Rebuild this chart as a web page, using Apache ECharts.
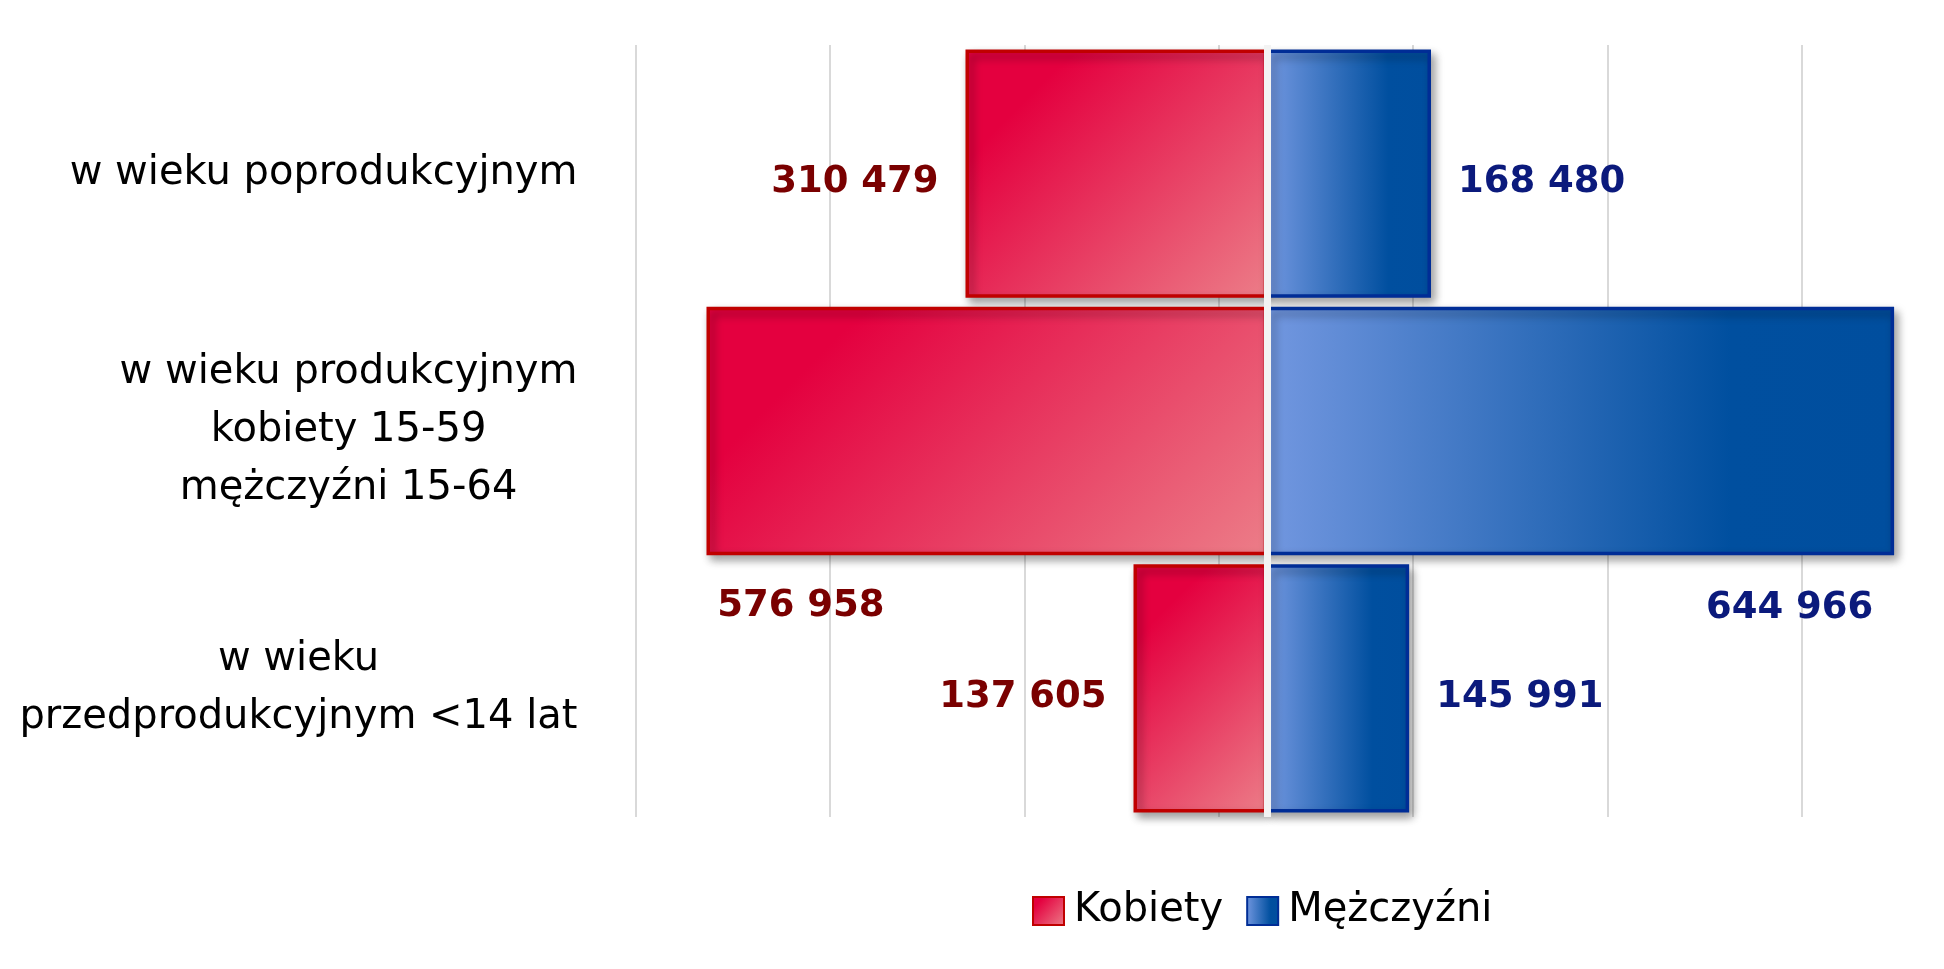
<!DOCTYPE html>
<html>
<head>
<meta charset="utf-8">
<script src="https://cdn.jsdelivr.net/npm/echarts@6/dist/echarts.min.js"></script>
<style>
  html, body { margin: 0; padding: 0; background: #ffffff; }
  #chart { width: 1944px; height: 969px; }
</style>
</head>
<body>
<div id="chart"></div>
<script>
// ---- data ----
const categories = [
  'w wieku poprodukcyjnym',
  'w wieku produkcyjnym\nkobiety 15-59\nmężczyźni 15-64',
  'w wieku\nprzedprodukcyjnym <14 lat'
];
const seriesNames = ['Kobiety', 'Mężczyźni'];
const women = [310479, 576958, 137605];
const men = [168480, 644966, 145991];
const axisMin = -650000;
const axisMax = 650000;
const tickStep = 200000;

// ---- styling ----
const FONT = 'DejaVu Sans';
const gridLeft = 635.5, gridRight = 45, gridTop = 45, gridBottom = 152;
const plotW = 1944 - gridLeft - gridRight;
const pxPerUnit = plotW / (axisMax - axisMin);
const barH = 250;

function fmt(v) {
  return String(Math.abs(v)).replace(/\B(?=(\d{3})+(?!\d))/g, ' ');
}

const CRIMSON = '#E4003F';
const PINK = '#EC7D88';
function womenGradient(value) {
  const W = Math.max(value * pxPerUnit, 1);
  const L = (W + barH) / 2;
  return new echarts.graphic.LinearGradient(0, 0, L / W, L / barH, [
    { offset: 0, color: CRIMSON },
    { offset: 0.2, color: CRIMSON },
    { offset: 1, color: PINK }
  ]);
}
const menGradient = new echarts.graphic.LinearGradient(0, 0, 1, 0, [
  { offset: 0, color: '#7297E0' },
  { offset: 0.74, color: '#004F9F' },
  { offset: 1, color: '#004E9E' }
]);

const shadow = {
  shadowBlur: 9,
  shadowOffsetX: 4,
  shadowOffsetY: 5,
  shadowColor: 'rgba(0,0,0,0.38)'
};

const labelBase = {
  show: true,
  fontFamily: FONT,
  fontWeight: 'bold',
  fontSize: 37,
  distance: 27,
  textBorderWidth: 0,
  formatter: p => fmt(p.value)
};

const WOMEN_LABEL = '#7A0000';
const MEN_LABEL = '#0B1A7C';
const specialRow = 1; // middle row labels sit below the bar

const womenData = women.map((v, i) => ({
  value: -v,
  itemStyle: { color: womenGradient(v) },
  label: i === specialRow
    ? { position: 'inside', offset: [-186, 175] }
    : { position: 'left', offset: [0, 9] }
}));
const menData = men.map((v, i) => ({
  value: v,
  label: i === specialRow
    ? { position: 'inside', offset: [209, 177] }
    : { position: 'right', offset: [0, 9] }
}));

const chart = echarts.init(document.getElementById('chart'), null, { renderer: 'canvas' });

chart.setOption({
  backgroundColor: '#ffffff',
  animation: false,
  grid: { left: gridLeft, right: gridRight, top: gridTop, bottom: gridBottom, containLabel: false },
  legend: {
    data: seriesNames,
    left: 1032,
    top: 891,
    padding: 0,
    icon: 'rect',
    itemWidth: 31,
    itemHeight: 28,
    itemGap: 23,
    textStyle: {
      fontFamily: FONT,
      fontSize: 40,
      color: '#000000',
      lineHeight: 40,
      padding: [0, 0, 0, 5]
    }
  },
  xAxis: {
    type: 'value',
    min: axisMin,
    max: axisMax,
    interval: tickStep,
    axisLabel: { show: false },
    axisLine: { show: false },
    axisTick: { show: false },
    splitLine: {
      show: true,
      showMaxLine: false,
      lineStyle: { color: '#D9D9D9', width: 2 }
    }
  },
  yAxis: {
    type: 'category',
    data: categories,
    inverse: true,
    axisLine: { show: false },
    axisTick: { show: false },
    splitLine: { show: false },
    axisLabel: {
      margin: 58,
      color: '#000000',
      fontFamily: FONT,
      fontSize: 40,
      lineHeight: 58,
      formatter: v => v.split('\n').map(l => '{c|' + l + '}').join('\n'),
      rich: {
        c: { align: 'center', fontFamily: FONT, fontSize: 40, lineHeight: 58, color: '#000000' }
      }
    }
  },
  series: [
    {
      name: seriesNames[0],
      type: 'bar',
      stack: 'pyramid',
      barCategoryGap: '3.5%',
      data: womenData,
      itemStyle: Object.assign({
        color: new echarts.graphic.LinearGradient(0, 0, 1, 1, [
          { offset: 0, color: CRIMSON },
          { offset: 0.2, color: CRIMSON },
          { offset: 1, color: PINK }
        ]),
        borderColor: '#C00000',
        borderWidth: 3.5
      }, shadow),
      label: Object.assign({}, labelBase, { color: WOMEN_LABEL })
    },
    {
      name: seriesNames[1],
      type: 'bar',
      stack: 'pyramid',
      barCategoryGap: '3.5%',
      data: menData,
      itemStyle: Object.assign({
        color: menGradient,
        borderColor: '#002D96',
        borderWidth: 3.5
      }, shadow),
      label: Object.assign({}, labelBase, { color: MEN_LABEL })
    },
    {
      name: 'centerLine',
      type: 'line',
      data: [],
      z: 10,
      silent: true,
      markLine: {
        silent: true,
        symbol: ['none', 'none'],
        label: { show: false },
        lineStyle: { color: '#F3F3F3', width: 7, type: 'solid' },
        emphasis: { disabled: true },
        data: [{ xAxis: 0 }]
      }
    }
  ]
});
</script>
</body>
</html>
